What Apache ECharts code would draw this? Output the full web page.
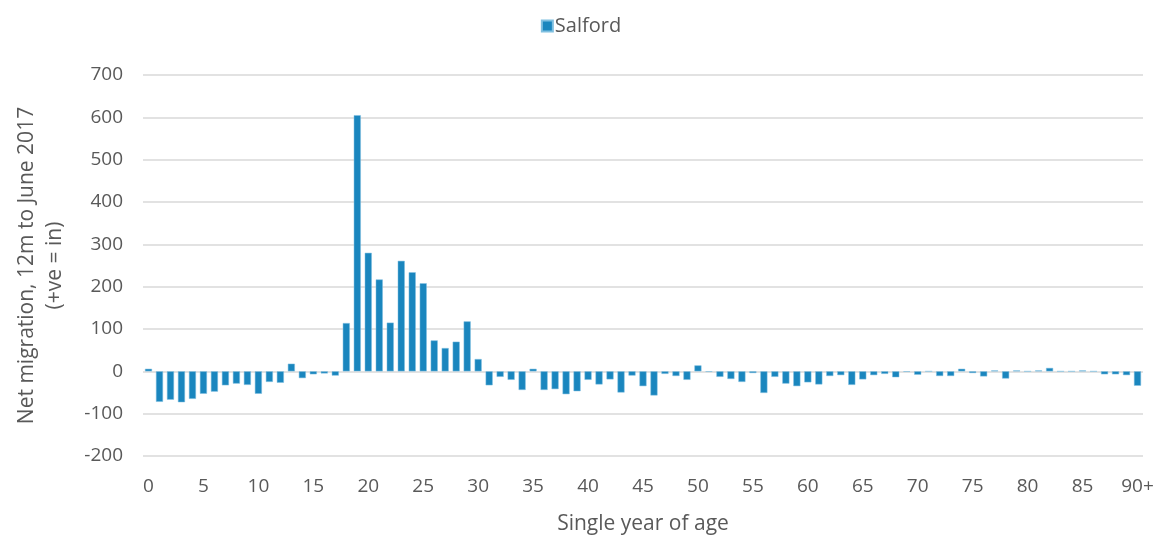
<!DOCTYPE html>
<html>
<head>
<meta charset="utf-8">
<script src="https://cdn.jsdelivr.net/npm/echarts@6/dist/echarts.min.js"></script>
<style>
  html, body { margin: 0; padding: 0; background: #fff; }
  #chart { width: 1162px; height: 538px; }
</style>
</head>
<body>
<div id="chart"></div>
<script>
// ages 0..89 plus the 90+ group
const ages = [];
for (let a = 0; a < 90; a++) ages.push(String(a));
ages.push("90+");

// net migration by single year of age
const salford = [
  6, -72, -67, -73, -65, -53, -48, -33, -29, -32,
  -53, -25, -27, 18, -16, -7, -5, -10, 114, 605,
  280, 217, 115, 261, 234, 208, 73, 55, 70, 118,
  29, -33, -13, -20, -44, 6, -44, -42, -54, -47,
  -20, -31, -19, -50, -10, -35, -57, -6, -11, -20,
  14, -1, -13, -18, -25, -4, -51, -13, -29, -35,
  -26, -31, -11, -9, -32, -19, -9, -6, -14, -1,
  -8, 0, -11, -11, 6, -4, -12, 2, -17, 2,
  0, 2, 8, 0, 0, 2, 0, -7, -7, -9,
  -34
];

const textColor = "#595959";
const font = "Open Sans";

const chart = echarts.init(document.getElementById("chart"));

chart.setOption({
  animation: false,
  textStyle: { fontFamily: font, color: textColor },
  legend: {
    data: ["Salford"],
    top: 11,
    left: "center",
    icon: "rect",
    itemWidth: 11,
    itemHeight: 11,
    itemGap: 4,
    textStyle: { fontSize: 20, color: textColor, fontFamily: font, padding: [0, 0, 0, -3] },
  },
  grid: { left: 143, right: 19, top: 75, bottom: 82, outerBoundsMode: "none" },
  xAxis: {
    type: "category",
    data: ages,
    name: "Single year of age",
    nameLocation: "middle",
    nameGap: 58,
    nameTextStyle: { fontSize: 21, color: textColor, fontFamily: font },
    axisLine: { show: false, onZero: false },
    axisTick: { show: false },
    axisLabel: {
      interval: (i) => i % 5 === 0,
      fontSize: 19,
      color: textColor,
      margin: 21,
    },
  },
  yAxis: {
    type: "value",
    min: -200,
    max: 700,
    interval: 100,
    name: "Net migration, 12m to June 2017\n(+ve = in)",
    nameLocation: "middle",
    nameGap: 74,
    nameTextStyle: { fontSize: 21, color: textColor, fontFamily: font, lineHeight: 28 },
    axisLine: { show: false },
    axisTick: { show: false },
    axisLabel: { fontSize: 19, color: textColor, margin: 20 },
    splitLine: { lineStyle: { color: "#d9d9d9", width: 1.5 } },
  },
  series: [
    {
      name: "Salford",
      type: "bar",
      data: salford,
      barCategoryGap: "36%",
      itemStyle: {
        color: "#1a86be",
        borderColor: "#7fbfe0",
        borderWidth: 0.5,
      },
    },
  ],
});
</script>
</body>
</html>
